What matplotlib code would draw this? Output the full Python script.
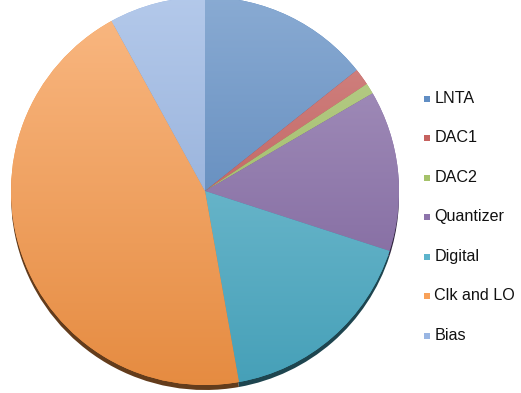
import matplotlib.pyplot as plt
import numpy as np
from matplotlib.colors import LinearSegmentedColormap, to_rgb

labels = ['LNTA', 'DAC1', 'DAC2', 'Quantizer', 'Digital', 'Clk and LO', 'Bias']
shares = [14.3, 1.4, 0.9, 13.4, 17.2, 44.8, 8.0]
colors = ['#4f81bd', '#c0504d', '#9bbb59', '#8064a2', '#4bacc6', '#f79646', '#8eaee0']


def mix(c, other, t):
    c = np.array(to_rgb(c))
    return tuple(c * (1 - t) + np.array(other) * t)


plt.rcParams['font.family'] = ['Liberation Sans', 'DejaVu Sans']

fig = plt.figure(figsize=(5.21, 3.93), dpi=100)
ax = fig.add_axes([0, 0, 1, 1])

cx, cy, r = 205, 202, 194

# dark rim under the pie
shadow_cols = [mix(c, (0, 0, 0), 0.6) for c in colors]
sw, _ = ax.pie(shares, colors=shadow_cols, startangle=90, counterclock=False,
               center=(cx, cy - 5), radius=r, frame=True,
               wedgeprops=dict(linewidth=0))
for w in sw:
    w.set_zorder(1)

wedges, _ = ax.pie(shares, colors=colors, startangle=90, counterclock=False,
                   center=(cx, cy), radius=r, frame=True,
                   wedgeprops=dict(linewidth=0))

# vertical gradient fill for each slice, light at top, darker at bottom
grad = np.linspace(0, 1, 256).reshape(-1, 1)
for w, c in zip(wedges, colors):
    w.set_zorder(2)
    cmap = LinearSegmentedColormap.from_list('g', [mix(c, (0, 0, 0), 0.07),
                                                   mix(c, (1, 1, 1), 0.33)])
    im = ax.imshow(grad, extent=(cx - r, cx + r, cy - r, cy + r), origin='lower',
                   cmap=cmap, aspect='auto', zorder=3, interpolation='bilinear')
    im.set_clip_path(w)

# legend
for i, (lab, c) in enumerate(zip(labels, colors)):
    y = 393 - (98.5 + i * 39.5)
    ax.scatter([426.5], [y], marker='s', s=24, color=mix(c, (1, 1, 1), 0.1),
               linewidths=0, zorder=4)
    ax.text(434.5, y, lab, fontsize=11.6, va='center', ha='left', color='#111111')

ax.set_xlim(0, 521)
ax.set_ylim(0, 393)
ax.set_aspect('auto')
ax.axis('off')

fig.savefig('out.png', dpi=100)
